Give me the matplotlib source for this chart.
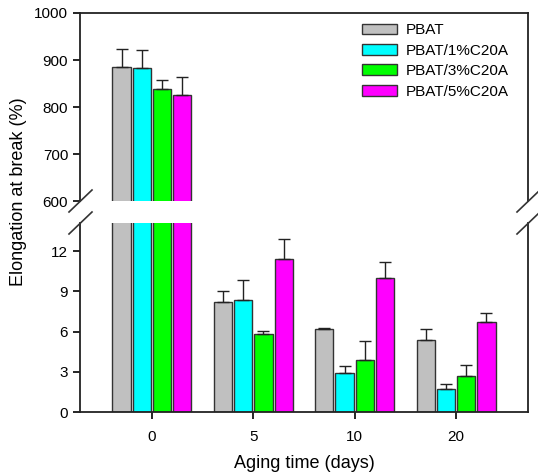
import numpy as np
import matplotlib
matplotlib.use("Agg")
import matplotlib.pyplot as plt
from matplotlib.lines import Line2D

plt.rcParams['font.family'] = ['Liberation Sans', 'DejaVu Sans']

days = ['0', '5', '10', '20']
series = ['PBAT', 'PBAT/1%C20A', 'PBAT/3%C20A', 'PBAT/5%C20A']
colors = ['#c0c0c0', '#00ffff', '#00ff00', '#ff00ff']

values = [
    [885, 8.2, 6.2, 5.4],
    [884, 8.35, 2.9, 1.7],
    [839, 5.85, 3.85, 2.7],
    [826, 11.4, 10.0, 6.7],
]
errors = [
    [39, 0.85, 0.1, 0.8],
    [37, 1.5, 0.5, 0.37],
    [18, 0.22, 1.45, 0.77],
    [38, 1.5, 1.2, 0.67],
]

W, H = 538, 475
fig = plt.figure(figsize=(W / 100, H / 100), dpi=100)

left, right = 80 / W, 528 / W
ax_top = fig.add_axes([left, 1 - 201 / H, right - left, (201 - 13) / H])
ax_bot = fig.add_axes([left, 1 - 412 / H, right - left, (412 - 223) / H])

x = np.arange(len(days))
width = 0.18
offsets = [-0.3, -0.1, 0.1, 0.3]

for ax in (ax_top, ax_bot):
    for i, name in enumerate(series):
        ax.bar(x + offsets[i], values[i], width, color=colors[i],
               edgecolor='#333333', linewidth=1, label=name, zorder=2)
        ax.errorbar(x + offsets[i], values[i],
                    yerr=[np.zeros(len(days)), errors[i]],
                    fmt='none', ecolor='#222222', elinewidth=1,
                    capsize=4, capthick=1, zorder=3)
    ax.set_xlim(-0.71, 3.71)
    for s in ax.spines.values():
        s.set_linewidth(1.3)
        s.set_color('#222222')
    ax.tick_params(axis='y', direction='out', length=5, width=1.2,
                   labelsize=11, right=False)

ax_top.set_ylim(600, 1000)
ax_top.set_yticks([600, 700, 800, 900, 1000])
ax_top.spines['bottom'].set_visible(False)
ax_top.set_xticks([])

ax_bot.set_ylim(0, 14.1)
ax_bot.set_yticks([0, 3, 6, 9, 12])
ax_bot.spines['top'].set_visible(False)
ax_bot.set_xticks(x)
ax_bot.set_xticklabels(days)
ax_bot.tick_params(axis='x', direction='out', length=5, width=1.2,
                   labelsize=11, pad=8)
ax_bot.set_xlabel('Aging time (days)', fontsize=13, labelpad=8)

fig.text(19 / W, 1 - 192 / H, 'Elongation at break (%)', rotation=90,
         fontsize=13, ha='center', va='center')

ax_top.legend(loc='upper left', bbox_to_anchor=(0.629, 0.945),
              frameon=False, fontsize=11, borderpad=0, borderaxespad=0,
              handlelength=2.3, handleheight=0.7, handletextpad=0.6,
              labelspacing=0.42)

# break marks
for xc in (80, 528):
    for yc in (201, 223):
        fig.add_artist(Line2D([(xc - 11) / W, (xc + 12) / W],
                              [1 - (yc + 11) / H, 1 - (yc - 11) / H],
                              color='#333333', linewidth=1.2))

fig.savefig('out.png', dpi=100)
